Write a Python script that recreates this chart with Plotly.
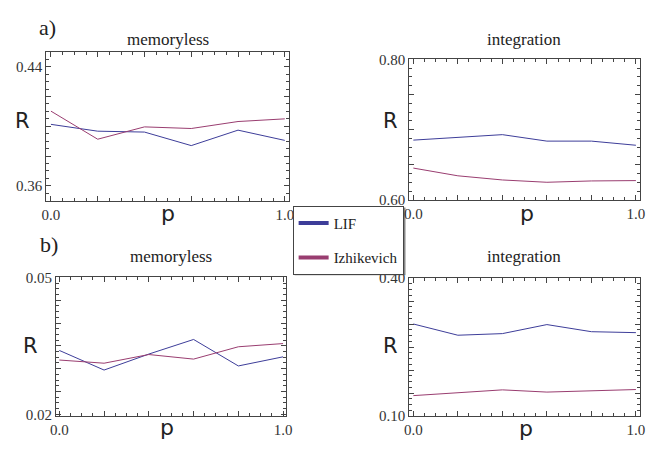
import plotly.graph_objects as go

W, H = 652, 449

# ---------------- data ----------------
p = [0.0, 0.2, 0.4, 0.6, 0.8, 1.0]

a_mem_lif = [0.4013, 0.3967, 0.3961, 0.3870, 0.3974, 0.3905]
a_mem_izh = [0.4102, 0.3913, 0.3996, 0.3985, 0.4032, 0.4050]

a_int_lif = [0.6851, 0.6892, 0.6929, 0.6837, 0.6837, 0.6778]
a_int_izh = [0.6453, 0.6343, 0.6284, 0.6251, 0.6270, 0.6275]

b_mem_lif = [0.0340, 0.0297, 0.0332, 0.0364, 0.0306, 0.0326]
b_mem_izh = [0.0319, 0.0312, 0.0331, 0.0321, 0.0348, 0.0355]

b_int_lif = [0.3002, 0.2758, 0.2793, 0.2989, 0.2835, 0.2814]
b_int_izh = [0.1447, 0.1503, 0.1572, 0.1524, 0.1551, 0.1579]

series_names = ["LIF", "Izhikevich"]
panel_titles = ["memoryless", "integration", "memoryless", "integration"]

x_tickvals = [0.0, 0.2, 0.4, 0.6, 0.8, 1.0]
x_ticktext = ["0.0", "", "", "", "", "1.0"]

a_mem_yticks = [0.36, 0.38, 0.40, 0.42, 0.44]
a_mem_ytext = ["0.36", "", "", "", "0.44"]
a_int_yticks = [0.60, 0.65, 0.70, 0.75, 0.80]
a_int_ytext = ["0.60", "", "", "", "0.80"]
b_mem_yticks = [0.020, 0.025, 0.030, 0.035, 0.040, 0.045, 0.050]
b_mem_ytext = ["0.02", "", "", "", "", "", "0.05"]
b_int_yticks = [0.10, 0.15, 0.20, 0.25, 0.30, 0.35, 0.40]
b_int_ytext = ["0.10", "", "", "", "", "", "0.40"]

BLUE = "#3d3d99"
PURPLE = "#993d70"
FRAME = "#444444"
SERIF = "Liberation Serif"
SANS = "DejaVu Sans"


def fx(px):
    return px / W


def fy(py):
    return 1 - py / H


fig = go.Figure()

panels = [
    ("", a_mem_lif, a_mem_izh, (41, 288.8), (45.6, 199.7), [-0.02, 1.02], [0.35, 0.45], a_mem_yticks, a_mem_ytext, 0.005, 0.35),
    ("2", a_int_lif, a_int_izh, (410.9, 645.8), (53.3, 199.0), [-0.018, 1.018], [0.60, 0.80], a_int_yticks, a_int_ytext, 0.0125, 0.60),
    ("3", b_mem_lif, b_mem_izh, (50.9, 285.7), (279.3, 422.8), [-0.015, 1.015], [0.0197, 0.05], b_mem_yticks, b_mem_ytext, 0.00125, 0.02),
    ("4", b_int_lif, b_int_izh, (410.9, 645.8), (280.0, 423.3), [-0.018, 1.018], [0.10, 0.40], b_int_yticks, b_int_ytext, 0.0125, 0.10),
]

layout_axes = {}
for sid, lif, izh, (x0, x1), (y0, y1), xr, yr, ytv, ytt, ymin, y0tick in panels:
    fig.add_trace(go.Scatter(x=p, y=lif, mode="lines", line=dict(color=BLUE, width=1),
                             xaxis="x" + sid, yaxis="y" + sid, showlegend=False))
    fig.add_trace(go.Scatter(x=p, y=izh, mode="lines", line=dict(color=PURPLE, width=1),
                             xaxis="x" + sid, yaxis="y" + sid, showlegend=False))
    common = dict(showline=True, linecolor=FRAME, linewidth=1, mirror="allticks",
                  ticks="inside", ticklen=5, tickcolor=FRAME, tickwidth=1,
                  showgrid=False, zeroline=False, tickfont=dict(family=SERIF, size=15, color="#333333"))
    layout_axes["xaxis" + sid] = dict(
        domain=[fx(x0), fx(x1)], range=xr, anchor="y" + sid,
        tickmode="array", tickvals=x_tickvals, ticktext=x_ticktext,
        minor=dict(ticks="inside", ticklen=3, tickcolor=FRAME, dtick=0.05, tick0=0, showgrid=False),
        **common)
    layout_axes["yaxis" + sid] = dict(
        domain=[fy(y1), fy(y0)], range=yr, anchor="x" + sid,
        tickmode="array", tickvals=ytv, ticktext=ytt,
        minor=dict(ticks="inside", ticklen=3, tickcolor=FRAME, dtick=ymin, tick0=y0tick, showgrid=False),
        **common)

# legend-only entries
fig.add_trace(go.Scatter(x=[None], y=[None], mode="lines", line=dict(color=BLUE, width=4),
                         name=series_names[0], legendgroup="g1"))
fig.add_trace(go.Scatter(x=[None], y=[None], mode="lines", line=dict(color=PURPLE, width=4),
                         name=series_names[1], legendgroup="g2"))

annotations = []


def ann(text, x, y, size, family, xanchor="center", yanchor="middle", color="#222222"):
    annotations.append(dict(text=text, x=fx(x), y=fy(y), xref="paper", yref="paper",
                            showarrow=False, xanchor=xanchor, yanchor=yanchor,
                            font=dict(family=family, size=size, color=color)))


ann(panel_titles[0], 165, 33, 17, SERIF)
ann(panel_titles[1], 528, 33, 17, SERIF)
ann(panel_titles[2], 168, 258, 17, SERIF)
ann(panel_titles[3], 528, 258, 17, SERIF)
ann("a)", 42, 20, 22, SERIF)
ann("b)", 44, 245, 22, SERIF)
for (rx, ry) in [(17, 117), (392, 117), (25, 350), (392, 350)]:
    ann("R", rx, ry, 21, SANS)
for (px_, py_) in [(165, 213), (531, 213), (164, 435), (530, 436)]:
    ann("p", px_, py_, 22, SANS)

# subtle drop shadow behind the legend box
shapes = [dict(type="rect", xref="paper", yref="paper",
               x0=fx(294), x1=fx(407), y0=fy(277), y1=fy(207),
               line=dict(width=0), fillcolor="#888888", layer="below")]

fig.update_layout(
    width=W, height=H,
    margin=dict(l=0, r=0, t=0, b=0),
    paper_bgcolor="white", plot_bgcolor="rgba(0,0,0,0)",
    annotations=annotations,
    shapes=shapes,
    legend=dict(x=fx(292), y=fy(205), xanchor="left", yanchor="top",
                bgcolor="white", bordercolor=FRAME, borderwidth=1,
                font=dict(family=SERIF, size=15, color="#222222"),
                tracegroupgap=12, itemwidth=30),
    showlegend=True,
    **layout_axes,
)

fig.write_html("out.html",
               config={"displayModeBar": False},
               post_script="document.body.style.margin='0';document.body.style.padding='0';"
                           "document.body.style.overflow='hidden';")
